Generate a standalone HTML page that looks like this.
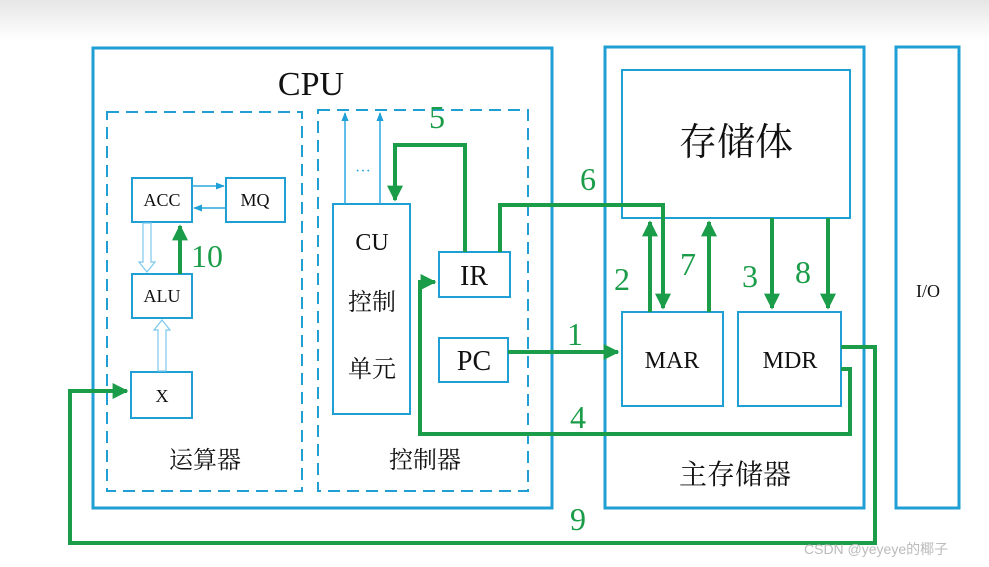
<!DOCTYPE html>
<html><head><meta charset="utf-8"><style>
html,body{margin:0;padding:0;background:#fff;}
svg{display:block}
text{font-family:"Liberation Serif","Noto Serif CJK SC",serif;fill:#111}
.g{fill:#1a9c48;font-family:"Liberation Serif",serif}
</style></head><body>
<svg width="989" height="567" viewBox="0 0 989 567" xmlns="http://www.w3.org/2000/svg">
<defs>
<linearGradient id="bg" x1="0" y1="0" x2="0" y2="1"><stop offset="0" stop-color="#e6e6e6"/><stop offset="1" stop-color="#fff"/></linearGradient>
<marker id="ga" viewBox="0 0 10 10" refX="9" refY="5" markerWidth="4" markerHeight="4" orient="auto"><path d="M0,0 L10,5 L0,10 z" fill="#1a9c48"/></marker>
<marker id="ba" viewBox="0 0 10 10" refX="9" refY="5" markerWidth="6" markerHeight="6" orient="auto"><path d="M0,1 L10,5 L0,9 z" fill="#1fa0d8"/></marker>
</defs>
<rect width="989" height="40" fill="url(#bg)"/>
<g fill="none" stroke="#1f9fd4">
<rect x="93" y="48" width="459" height="460" stroke-width="3"/>
<rect x="605" y="47" width="259" height="461" stroke-width="3"/>
<rect x="896" y="47" width="63" height="461" stroke-width="3"/>
<rect x="622" y="70" width="228" height="148" stroke-width="2"/>
<rect x="107" y="112" width="195" height="379" stroke-width="2" stroke-dasharray="12,7"/>
<rect x="318" y="110" width="210" height="381" stroke-width="2" stroke-dasharray="12,7"/>
<g stroke-width="2">
<rect x="132" y="178" width="60" height="44"/>
<rect x="226" y="178" width="59" height="44"/>
<rect x="132" y="274" width="60" height="44"/>
<rect x="131" y="372" width="61" height="46"/>
<rect x="333" y="204" width="77" height="210"/>
<rect x="439" y="252" width="71" height="45"/>
<rect x="439" y="338" width="69" height="44"/>
<rect x="622" y="312" width="101" height="94"/>
<rect x="738" y="312" width="103" height="94"/>
</g>
<g stroke-width="1.5" stroke="#2aa8e0">
<line x1="192" y1="186" x2="224" y2="186" marker-end="url(#ba)"/>
<line x1="226" y1="208" x2="194" y2="208" marker-end="url(#ba)"/>
<line x1="345" y1="204" x2="345" y2="113" marker-end="url(#ba)"/>
<line x1="380" y1="204" x2="380" y2="113" marker-end="url(#ba)"/>
</g>
<g stroke="#7cc8ec" stroke-width="1.2" fill="#fff">
<path d="M143,223 V262 H139 L147,272 L155,262 H151 V223 Z"/>
<path d="M158,371 V330 H154 L162,320 L170,330 H166 V371 Z"/>
</g>
</g>
<g fill="none" stroke="#1a9c48" stroke-width="4">
<polyline points="465,252 465,145 395,145 395,200" marker-end="url(#ga)"/>
<polyline points="500,252 500,205 663,205 663,308" marker-end="url(#ga)"/>
<line x1="650" y1="312" x2="650" y2="222" marker-end="url(#ga)"/>
<line x1="709" y1="312" x2="709" y2="222" marker-end="url(#ga)"/>
<line x1="772" y1="218" x2="772" y2="308" marker-end="url(#ga)"/>
<line x1="828" y1="218" x2="828" y2="308" marker-end="url(#ga)"/>
<line x1="508" y1="352" x2="618" y2="352" marker-end="url(#ga)"/>
<polyline points="841,369 850,369 850,434 420,434 420,282 435,282" marker-end="url(#ga)"/>
<polyline points="841,347 875,347 875,543 70,543 70,391 127,391" marker-end="url(#ga)"/>
<line x1="180" y1="274" x2="180" y2="226" marker-end="url(#ga)"/>
</g>
<text x="311" y="95" font-size="34" text-anchor="middle">CPU</text>
<text x="162" y="206" font-size="18" text-anchor="middle">ACC</text>
<text x="255" y="206" font-size="18" text-anchor="middle">MQ</text>
<text x="162" y="302" font-size="18" text-anchor="middle">ALU</text>
<text x="162" y="402" font-size="18" text-anchor="middle">X</text>
<text x="372" y="250" font-size="24" text-anchor="middle">CU</text>
<text x="372" y="310" font-size="24" text-anchor="middle">控制</text>
<text x="372" y="377" font-size="24" text-anchor="middle">单元</text>
<text x="363" y="176" font-size="16" text-anchor="middle" fill="#2aa8e0" style="fill:#2aa8e0">···</text>
<text x="474" y="285" font-size="28" text-anchor="middle">IR</text>
<text x="474" y="370" font-size="28" text-anchor="middle">PC</text>
<text x="672" y="368" font-size="24" text-anchor="middle">MAR</text>
<text x="790" y="368" font-size="24" text-anchor="middle">MDR</text>
<text x="736" y="155" font-size="38" text-anchor="middle">存储体</text>
<text x="205" y="468" font-size="24" text-anchor="middle">运算器</text>
<text x="425" y="468" font-size="24" text-anchor="middle">控制器</text>
<text x="735" y="484" font-size="28" text-anchor="middle">主存储器</text>
<text x="928" y="297" font-size="18" text-anchor="middle">I/O</text>
<g font-size="32">
<text class="g" x="437" y="128" text-anchor="middle">5</text>
<text class="g" x="588" y="190" text-anchor="middle">6</text>
<text class="g" x="622" y="290" text-anchor="middle">2</text>
<text class="g" x="688" y="275" text-anchor="middle">7</text>
<text class="g" x="750" y="287" text-anchor="middle">3</text>
<text class="g" x="803" y="283" text-anchor="middle">8</text>
<text class="g" x="575" y="345" text-anchor="middle">1</text>
<text class="g" x="578" y="428" text-anchor="middle">4</text>
<text class="g" x="578" y="530" text-anchor="middle">9</text>
<text class="g" x="207" y="267" text-anchor="middle">10</text>
</g>
<text x="804" y="554" font-size="14" style="fill:#bbb;font-family:'Liberation Sans','Noto Sans CJK SC',sans-serif">CSDN @yeyeye的椰子</text>
</svg>
</body></html>
